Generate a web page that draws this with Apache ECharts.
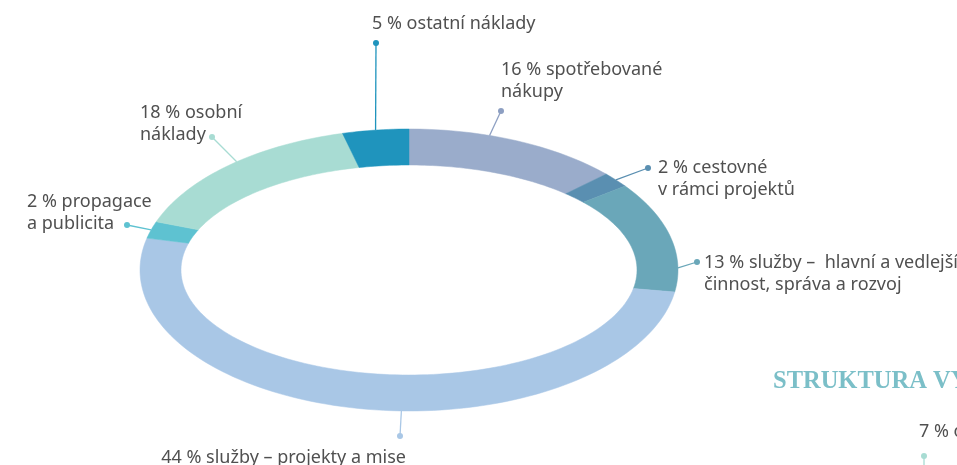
<!DOCTYPE html>
<html>
<head>
<meta charset="UTF-8">
<title>Struktura nákladů</title>
<style>
    html, body { margin: 0; padding: 0; background: #ffffff; }
    #main { width: 957px; height: 465px; }
</style>
<script src="https://cdn.jsdelivr.net/npm/echarts@6/dist/echarts.min.js"></script>
</head>
<body>
<div id="main"></div>
<script type="text/javascript">
    // data, clockwise from the top of the ring
    var names = ['spotřebované\nnákupy', 'cestovné\nv rámci projektů', 'služby –  hlavní a vedlejší\nčinnost, správa a rozvoj',
        'služby – projekty a mise', 'propagace\na publicita', 'osobní\nnáklady', 'ostatní náklady'];
    var shares = [16, 2, 13, 44, 2, 18, 5];

    var colors = ['#9aaccb', '#5a8fb1', '#6aa7b9', '#a9c7e6', '#5ec2d1', '#a8dcd3', '#1f94bd'];
    var lineColors = ['#8d9fc2', '#5a8fb1', '#6aa7b9', '#a9c7e6', '#5ec2d1', '#a8dcd3', '#1f94bd'];

    // hand placed labels: where the leader leaves the slice (0..1), the dot, the text
    var labelAt = [0.38, 0.5, 0.8, 0.44, 0.5, 0.52, 0.5];
    var dots = [[501, 111], [648, 168], [697, 262], [400, 436], [127, 225], [212, 137], [376, 43]];
    var textPos = [[501, 59, 'left'], [658, 157, 'left'], [704, 252, 'left'], [406, 447, 'right'],
        [27, 191, 'left'], [140, 102, 'left'], [372, 13, 'left']];

    var total = shares.reduce(function (s, v) { return s + v; }, 0);
    var starts = [];
    shares.reduce(function (acc, v, i) { starts[i] = acc; return acc + v; }, 0);

    // the ring is a tilted disc: pie angle -> perspective point -> direction from ellipse centre
    var CX = 409, CY = 270;
    var OUT = [269, 141], INN = [228, 105];
    var TILT = 0.225;

    function screenDir(a) {
        var X = Math.sin(a), Y = -Math.cos(a), d = 1 - TILT * Y;
        return Math.atan2(-32 + 134.7 * Y / d, 263 * X / d);
    }

    function onEllipse(t, r) {
        var c = Math.cos(t), s = Math.sin(t);
        var k = 1 / Math.sqrt(c * c / (r[0] * r[0]) + s * s / (r[1] * r[1]));
        return [CX + k * c, CY + k * s];
    }

    function renderItem(params, api) {
        var i = params.dataIndex;
        var a0 = starts[i] / total * 2 * Math.PI;
        var a1 = a0 + api.value(0) / total * 2 * Math.PI;
        var steps = Math.max(6, Math.ceil((a1 - a0) * 40));
        var outer = [], inner = [];
        for (var k = 0; k <= steps; k++) {
            var t = screenDir(a0 + (a1 - a0) * k / steps);
            outer.push(onEllipse(t, OUT));
            inner.unshift(onEllipse(t, INN));
        }
        var from = onEllipse(screenDir(a0 + (a1 - a0) * labelAt[i]), OUT);
        var dot = dots[i], tp = textPos[i];
        return {
            type: 'group',
            children: [
                {
                    type: 'polygon',
                    shape: { points: outer.concat(inner) },
                    style: { fill: colors[i], stroke: colors[i], lineWidth: 0.5 }
                },
                {
                    type: 'polyline',
                    shape: { points: [from, dot] },
                    style: { stroke: lineColors[i], lineWidth: 1.3, fill: null }
                },
                {
                    type: 'circle',
                    shape: { cx: dot[0], cy: dot[1], r: 3 },
                    style: { fill: lineColors[i] }
                },
                {
                    type: 'text',
                    x: tp[0], y: tp[1],
                    style: {
                        text: api.value(0) + ' % ' + names[i],
                        fill: '#505050',
                        font: '18px "Noto Sans"',
                        align: tp[2],
                        verticalAlign: 'top',
                        lineHeight: 22
                    }
                }
            ]
        };
    }

    var myChart = echarts.init(document.getElementById('main'));
    var option = {
        backgroundColor: '#ffffff',
        animation: false,
        graphic: [
            {
                type: 'text', x: 773, y: 382,
                style: { text: 'STRUKTURA VÝNOSŮ', fill: '#7bbfc8', font: 'bold 24.5px "Liberation Serif"', verticalAlign: 'middle' }
            },
            {
                type: 'text', x: 919, y: 432,
                style: { text: '7 % ostatní výnosy', fill: '#505050', font: '18px "Noto Sans"', verticalAlign: 'middle' }
            },
            {
                type: 'line', shape: { x1: 924, y1: 456, x2: 924, y2: 470 },
                style: { stroke: '#a8dcd3', lineWidth: 1.3 }
            },
            {
                type: 'circle', shape: { cx: 924, cy: 456, r: 3 },
                style: { fill: '#a8dcd3' }
            }
        ],
        series: [
            {
                type: 'custom',
                coordinateSystem: 'none',
                renderItem: renderItem,
                data: shares.map(function (v) { return [v]; })
            }
        ]
    };
    myChart.setOption(option);
</script>
</body>
</html>
